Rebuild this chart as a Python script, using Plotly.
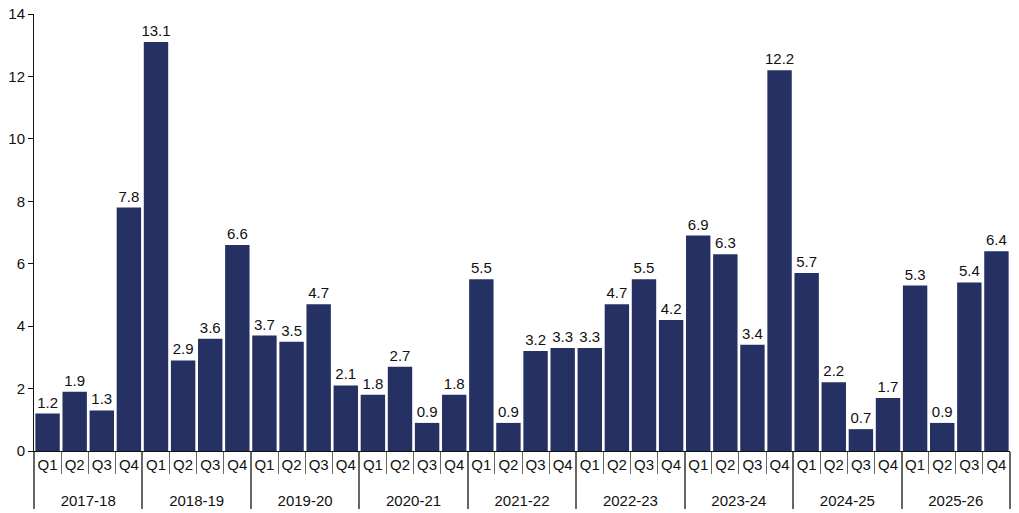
import plotly.graph_objects as go

years = ["2017-18", "2018-19", "2019-20", "2020-21", "2021-22",
         "2022-23", "2023-24", "2024-25", "2025-26"]
quarters = ["Q1", "Q2", "Q3", "Q4"]
values = [
    1.2, 1.9, 1.3, 7.8,
    13.1, 2.9, 3.6, 6.6,
    3.7, 3.5, 4.7, 2.1,
    1.8, 2.7, 0.9, 1.8,
    5.5, 0.9, 3.2, 3.3,
    3.3, 4.7, 5.5, 4.2,
    6.9, 6.3, 3.4, 12.2,
    5.7, 2.2, 0.7, 1.7,
    5.3, 0.9, 5.4, 6.4,
]

outer = [y for y in years for _ in quarters]
inner = [q + "<br><span style='font-size:1px'>&nbsp;</span>"
         for _ in years for q in quarters]

fig = go.Figure(go.Bar(
    x=[outer, inner], y=values,
    marker_color="#253163", marker_line_width=0,
    text=[f"{v:.1f}" for v in values], textposition="outside",
    constraintext="none",
    textfont=dict(size=15, color="#111111"), cliponaxis=False,
))
fig.update_layout(
    width=1019, height=513,
    margin=dict(l=34, r=9, t=14, b=62),
    plot_bgcolor="white", paper_bgcolor="white",
    font=dict(family="Liberation Sans, Arial", size=15, color="#111111"),
    bargap=0.1, showlegend=False,
)
fig.update_xaxes(
    type="multicategory", showline=True, linecolor="#111111", linewidth=1,
    ticks="outside", tickson="boundaries", ticklen=22, tickcolor="#666",
    showdividers=True, dividercolor="#666", dividerwidth=1.5,
    tickfont=dict(size=15), tickangle=0, showgrid=False, automargin=False,
)
fig.update_yaxes(
    range=[0, 14], dtick=2, showline=True, linecolor="#111111", linewidth=1,
    ticks="outside", ticklen=5, tickcolor="#111111", showgrid=False,
    zeroline=False, tickfont=dict(size=15), automargin=False,
)
fig.write_html("out.html", config={"displayModeBar": False},
               post_script="document.body.style.margin='0';")
